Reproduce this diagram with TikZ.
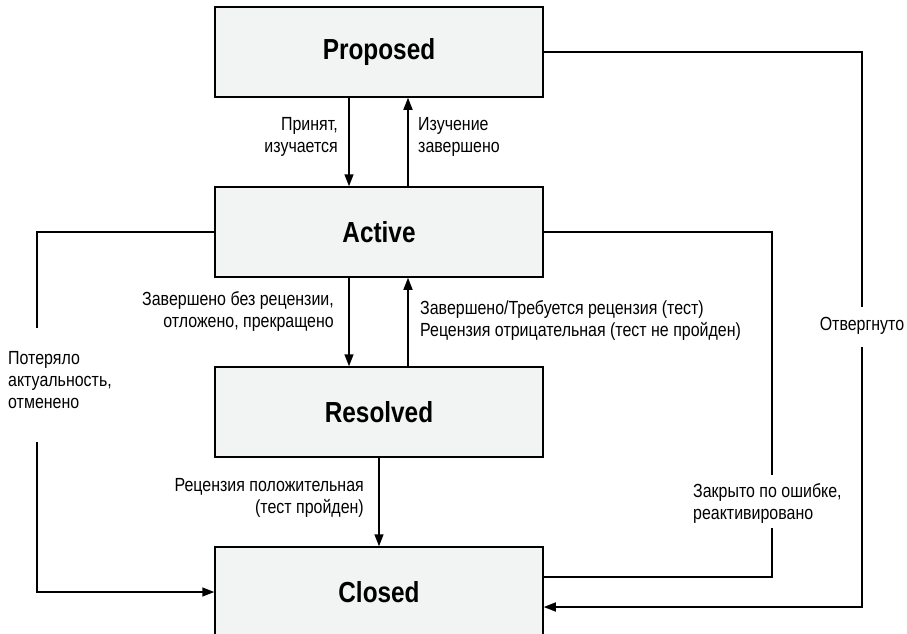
\documentclass[tikz,border=0pt]{standalone}
\usepackage{fontspec}
\setmainfont{Liberation Sans}[FakeStretch=0.84]
\usetikzlibrary{arrows.meta}
\definecolor{boxfill}{RGB}{242,243,243}
\tikzset{
  state/.style={draw=black, fill=boxfill, line width=1.5pt, minimum width=328pt,
    minimum height=90pt, inner sep=0pt, font=\fontsize{29}{32}\selectfont\bfseries},
  link/.style={line width=1.5pt, draw=black},
  arr/.style={link, -{Triangle[length=12pt,width=9pt]}},
  lbl/.style={inner sep=0pt, font=\fontsize{19}{22}\selectfont}
}
\begin{document}
\begin{tikzpicture}[x=1pt,y=-1pt]
  \clip (0,0) rectangle (907,634);
  \useasboundingbox (0,0) rectangle (907,634);

  % workflow states
  \node[state] (proposed) at (379,52) {Proposed};
  \node[state] (active)   at (379,232) {Active};
  \node[state] (resolved) at (379,412) {Resolved};
  \node[state] (closed)   at (379,592) {Closed};

  % Proposed <-> Active
  \draw[arr] ([xshift=-30pt]proposed.south) -- ([xshift=-30pt]active.north);
  \draw[arr] ([xshift=29pt]active.north) -- ([xshift=29pt]proposed.south);
  \node[lbl, anchor=east, align=right] (accepted) at (338,137) {Принят,\\изучается};
  \node[lbl, anchor=west, align=left] (studied) at (418,137) {Изучение\\завершено};

  % Active <-> Resolved
  \draw[arr] ([xshift=-30pt]active.south) -- ([xshift=-30pt]resolved.north);
  \draw[arr] ([xshift=29pt]resolved.north) -- ([xshift=29pt]active.south);
  \node[lbl, anchor=east, align=right] (done) at (334,312)
    {Завершено без рецензии,\\отложено, прекращено};
  \node[lbl, anchor=west, align=left] (review) at (420,321)
    {Завершено/Требуется рецензия (тест)\\Рецензия отрицательная (тест не пройден)};

  % Resolved -> Closed
  \draw[arr] (resolved.south) -- (closed.north);
  \node[lbl, anchor=east, align=right] (passed) at (364,498)
    {Рецензия положительная\\(тест пройден)};

  % Active -> Closed (left loop)
  \coordinate (l1) at (37,328);
  \coordinate (l2) at (37,442);
  \draw[link] (active.west) -| (l1);
  \draw[arr] (l2) |- (closed.west);
  \node[lbl, anchor=west, align=left] (obsolete) at (8,380)
    {Потеряло\\актуальность,\\отменено};

  % Closed -- Active (reactivation loop)
  \coordinate (r1) at (772,475);
  \coordinate (r2) at (772,528);
  \draw[link] (active.east) -| (r1);
  \draw[link] (r2) |- ([yshift=15pt]closed.east);
  \node[lbl, anchor=west, align=left] (reopen) at (693,503)
    {Закрыто по ошибке,\\реактивировано};

  % Proposed -> Closed (rejected)
  \coordinate (p1) at (862,307);
  \coordinate (p2) at (862,347);
  \draw[link] (proposed.east) -| (p1);
  \draw[arr] (p2) |- ([yshift=-15pt]closed.east);
  \node[lbl] (rejected) at (862,326) {Отвергнуто};
\end{tikzpicture}
\end{document}
